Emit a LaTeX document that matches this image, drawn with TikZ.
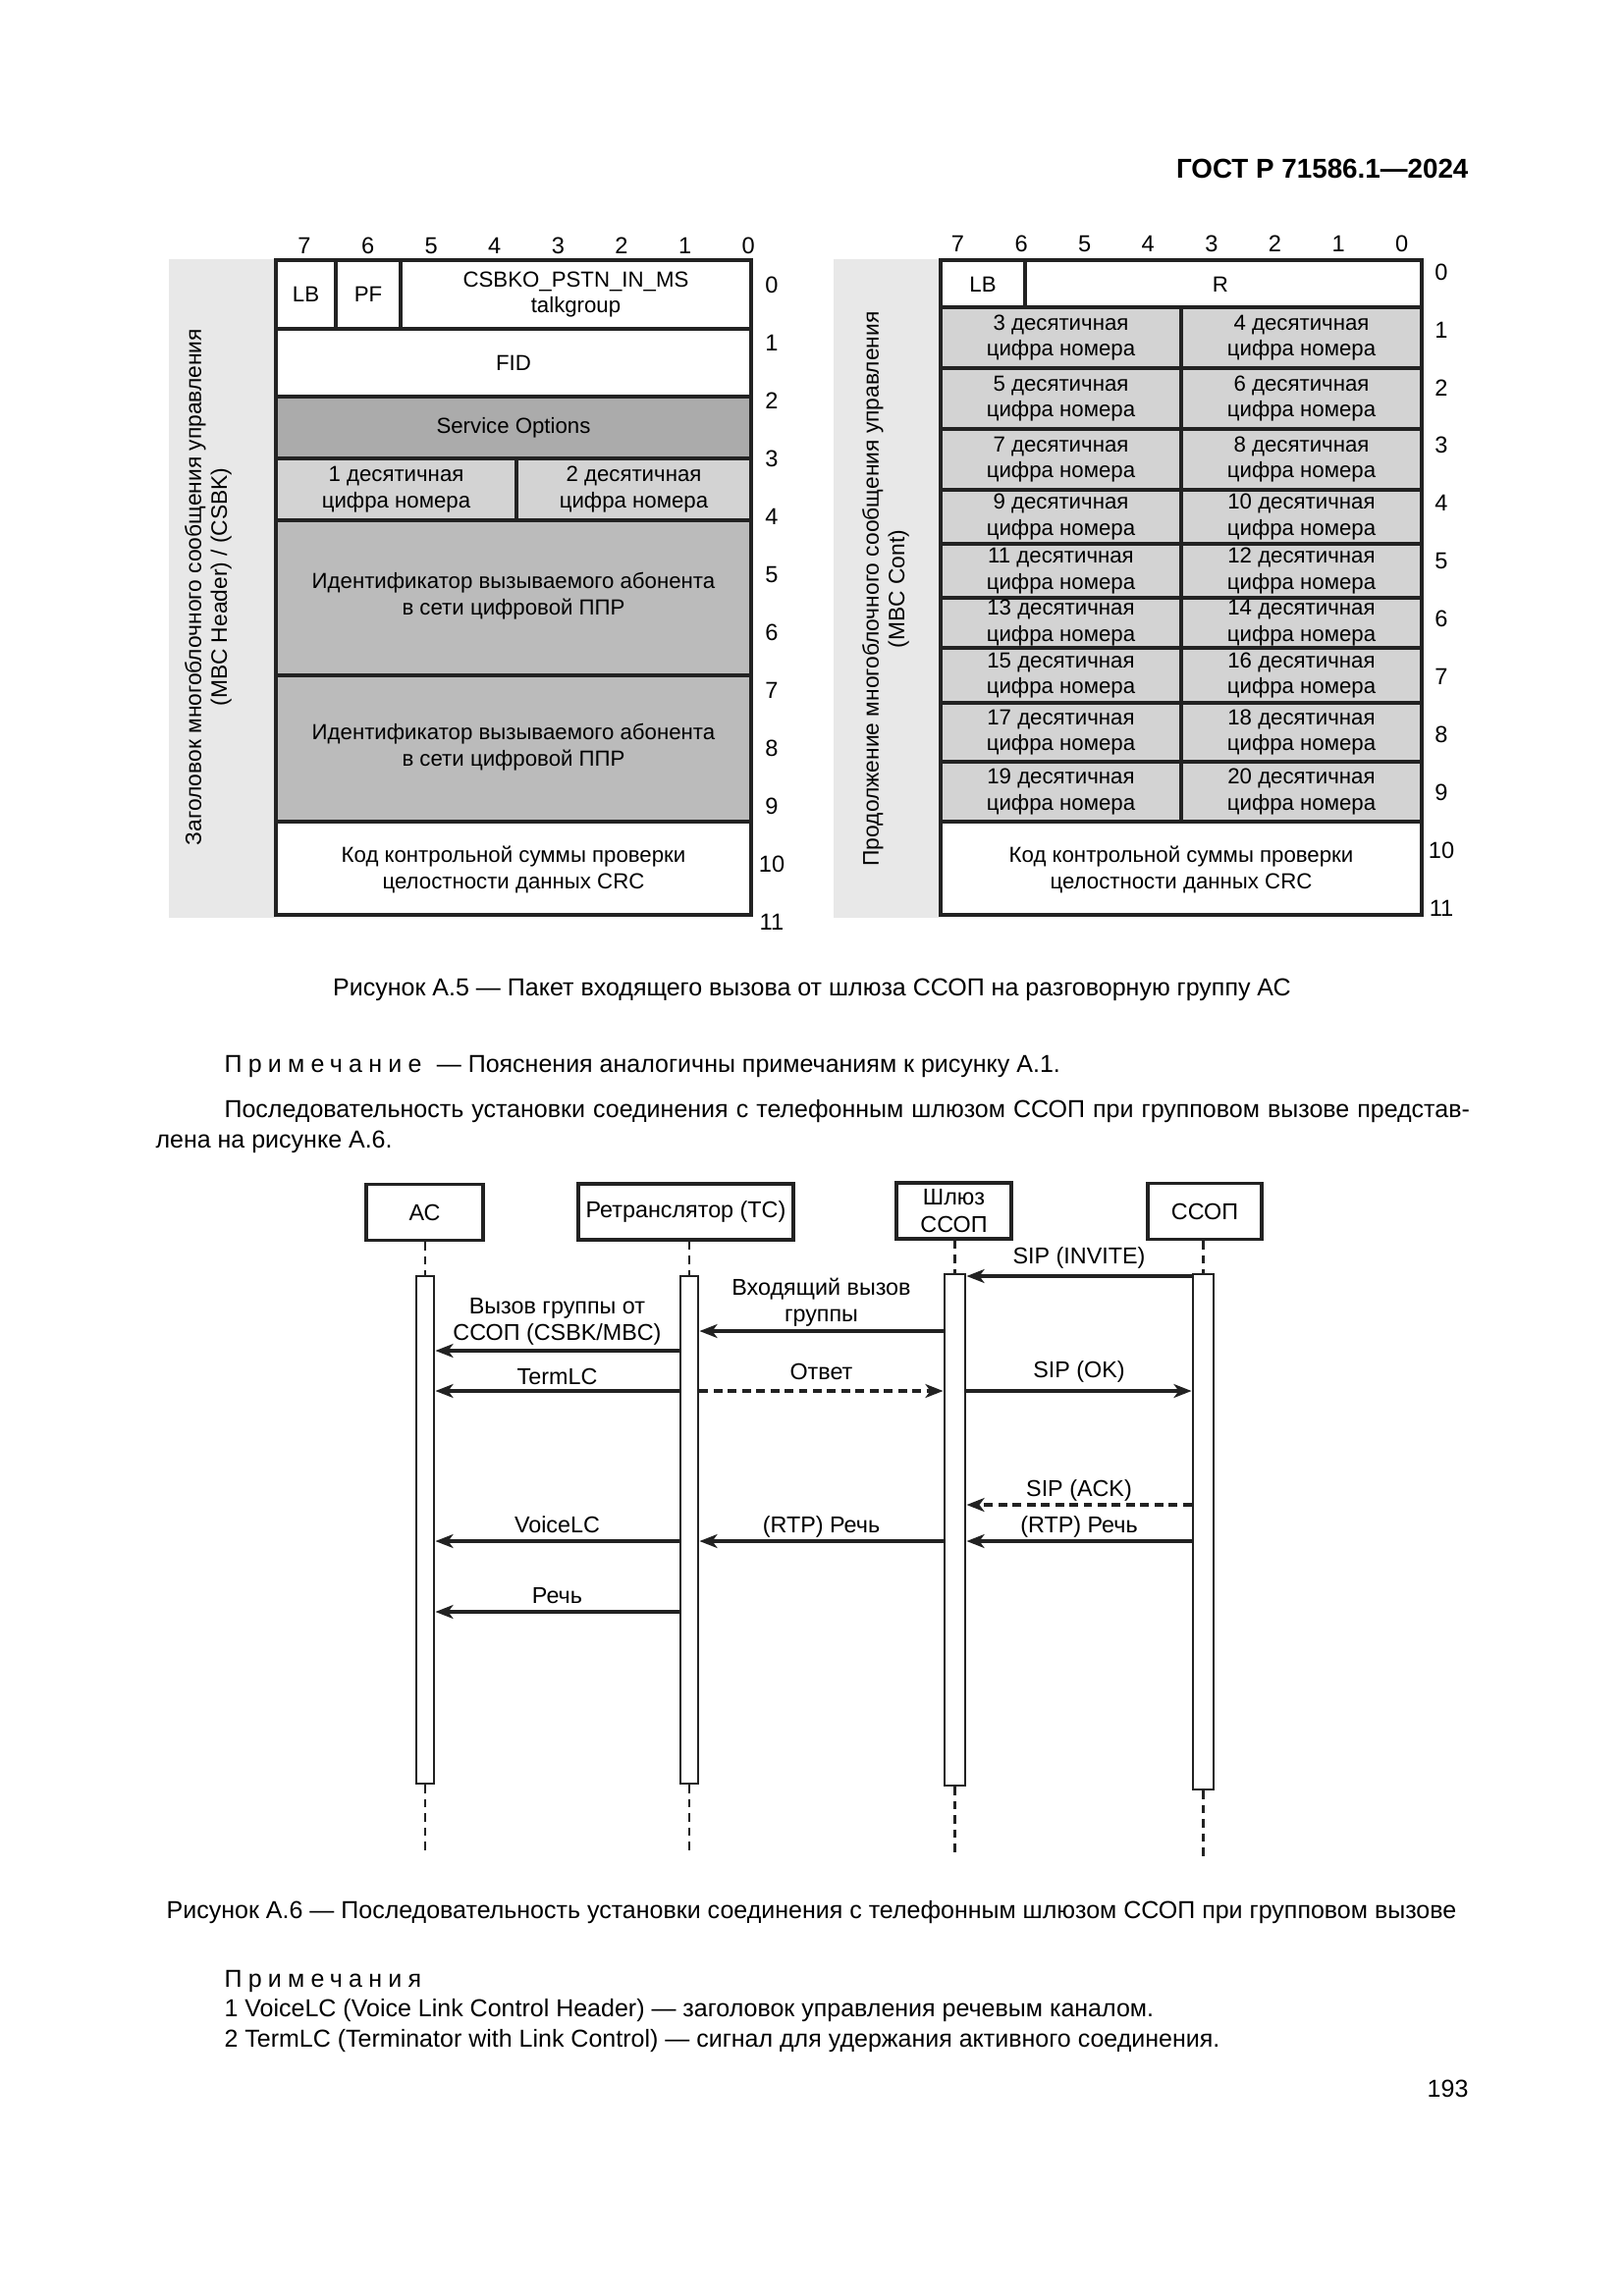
\documentclass[tikz,border=0pt]{standalone}
\usepackage{fontspec}
\setmainfont{Liberation Sans}
\usetikzlibrary{arrows.meta}
\definecolor{polosa}{HTML}{E8E8E8}
\definecolor{temnyj}{HTML}{ABABAB}
\definecolor{srednij}{HTML}{BBBBBB}
\definecolor{svetlyj}{HTML}{D3D3D3}
\definecolor{linija}{HTML}{222222}
\newcommand{\razr}[1]{{\addfontfeature{LetterSpace=25}#1}}

\begin{document}
\begin{tikzpicture}[x=0.3599pt, y=-0.3599pt,
    yach/.style={draw=linija, line width=1.3pt},
    tekst/.style={font=\fontsize{8}{9.6}\selectfont, align=center, inner sep=0pt},
    nomer/.style={font=\fontsize{8.5}{10}\selectfont, inner sep=0pt},
    uchastnik/.style={draw=linija, line width=1.4pt, fill=white, font=\fontsize{8.4}{9.9}\selectfont, align=center, inner sep=0pt, minimum height=20.5pt},
    aktiv/.style={draw=linija, line width=1pt, fill=white, inner sep=0pt, minimum width=6.5pt},
    zhizn/.style={draw=linija, line width=0.9pt, dash pattern=on 3pt off 2.2pt},
    soob/.style={draw=linija, line width=1.3pt, -{Stealth[length=6.5pt, width=5pt, inset=1.8pt]}},
    otvet/.style={soob, dash pattern=on 3.2pt off 2pt},
    metka/.style={font=\fontsize{8.4}{9.9}\selectfont, align=center, inner sep=0pt},
    stroka/.style={font=\fontsize{9}{11.2}\selectfont, inner sep=0pt, anchor=base west}]

    \useasboundingbox[fill=white] (0,0) rectangle (1654,2339);

    % колонтитул
    \node[font=\fontsize{10}{12}\selectfont\bfseries, inner sep=0pt, anchor=base east] (gost) at (1496,181) {ГОСТ Р 71586.1—2024};

    % рисунок А.5, левая таблица
    \fill[polosa] (172,264) rectangle (281,935);
    \filldraw[yach, fill=white] (281,265) rectangle (342,335);
    \filldraw[yach, fill=white] (342,265) rectangle (408,335);
    \filldraw[yach, fill=white] (408,265) rectangle (765,335);
    \filldraw[yach, fill=white] (281,335) rectangle (765,404);
    \filldraw[yach, fill=temnyj] (281,404) rectangle (765,467);
    \filldraw[yach, fill=svetlyj] (281,467) rectangle (526,530);
    \filldraw[yach, fill=svetlyj] (526,467) rectangle (765,530);
    \filldraw[yach, fill=srednij] (281,530) rectangle (765,688);
    \filldraw[yach, fill=srednij] (281,688) rectangle (765,837);
    \filldraw[yach, fill=white] (281,837) rectangle (765,932);

    \node[tekst] (lbL) at (311.5,300) {LB};
    \node[tekst] (pf) at (375,300) {PF};
    \node[tekst] (csbko) at (586.5,300) {CSBKO\_PSTN\_IN\_MS\\talkgroup};
    \node[tekst] (fid) at (523,369.5) {FID};
    \node[tekst] (servis) at (523,435.5) {Service Options};
    \node[tekst] (cifra1) at (403.5,498.5) {1 десятичная\\цифра номера};
    \node[tekst] (cifra2) at (645.5,498.5) {2 десятичная\\цифра номера};
    \node[tekst] (ident1) at (523,607) {Идентификатор вызываемого абонента\\в сети цифровой ППР};
    \node[tekst] (ident2) at (523,761) {Идентификатор вызываемого абонента\\в сети цифровой ППР};
    \node[tekst] (crcL) at (523,886) {Код контрольной суммы проверки\\целостности данных CRC};
    \node[tekst, rotate=90, font=\fontsize{8.2}{9.4}\selectfont] (zagL) at (212,598) {Заголовок многоблочного сообщения управления\\(MBC Header) / (CSBK)};

    \foreach \b [count=\i from 0] in {7,6,5,4,3,2,1,0}
        \node[nomer] (bitL\b) at (310+64.6*\i,250) {\b};
    \foreach \r in {0,...,11}
        \node[nomer] (strL\r) at (786,290+59*\r) {\r};

    % рисунок А.5, правая таблица
    \fill[polosa] (849,264) rectangle (958,935);
    \filldraw[yach, fill=white] (958,265) rectangle (1044,313);
    \filldraw[yach, fill=white] (1044,265) rectangle (1448,313);
    \node[tekst] (lbR) at (1001,290) {LB};
    \node[tekst] (rez) at (1243,290) {R};
    \foreach \ya/\yb [count=\i] in {313/375, 375/437, 437/499, 499/554, 554/609, 609/660, 660/716, 716/776, 776/837} {
        \pgfmathtruncatemacro{\nl}{2*\i+1}
        \pgfmathtruncatemacro{\np}{2*\i+2}
        \filldraw[yach, fill=svetlyj] (958,\ya) rectangle (1203,\yb);
        \filldraw[yach, fill=svetlyj] (1203,\ya) rectangle (1448,\yb);
        \node[tekst] (cifra\nl) at (1080.5,{(\ya+\yb)/2}) {\nl{} десятичная\\цифра номера};
        \node[tekst] (cifra\np) at (1325.5,{(\ya+\yb)/2}) {\np{} десятичная\\цифра номера};
    }
    \filldraw[yach, fill=white] (958,837) rectangle (1448,932);
    \node[tekst] (crcR) at (1203,886) {Код контрольной суммы проверки\\целостности данных CRC};
    \node[tekst, rotate=90, font=\fontsize{8.2}{9.4}\selectfont] (zagR) at (902,600) {Продолжение многоблочного сообщения управления\\(MBC Cont)};

    \foreach \b [count=\i from 0] in {7,6,5,4,3,2,1,0}
        \node[nomer] (bitR\b) at (975.5+64.6*\i,248) {\b};
    \foreach \r in {0,...,11}
        \node[nomer] (strR\r) at (1468,277+58.9*\r) {\r};

    % подписи и текст
    \node[stroka, anchor=base] (ris5) at (827,1014) {Рисунок А.5 — Пакет входящего вызова от шлюза ССОП на разговорную группу АС};
    \node[stroka] (prim) at (228,1092) {\razr{Примечание}\hspace{3pt} — Пояснения аналогичны примечаниям к рисунку А.1.};
    \node[stroka] (abzac) at (158,1138) {\parbox[t]{481.7pt}{\hspace*{25.2pt}Последовательность установки соединения с телефонным шлюзом ССОП при групповом вызове представ-\linebreak лена на рисунке А.6.}};

    % рисунок А.6
    \node[uchastnik, minimum width=42.8pt] (ac) at (432.5,1235) {АС};
    \node[uchastnik, minimum width=78.8pt] (ret) at (698.5,1234.5) {Ретранслятор (ТС)};
    \node[uchastnik, minimum width=42.1pt] (shl) at (971.5,1233.5) {Шлюз\\ССОП};
    \node[uchastnik, minimum width=41.7pt] (ssop) at (1227,1234) {ССОП};

    \node[aktiv, minimum height=186.1pt] (barAC) at (433,1558.5) {};
    \node[aktiv, minimum height=186.1pt] (barRet) at (702,1558.5) {};
    \node[aktiv, minimum width=7.6pt, minimum height=187.5pt] (barShl) at (972.5,1558.5) {};
    \node[aktiv, minimum width=7.6pt, minimum height=189pt] (barSsop) at (1225.5,1560.5) {};

    \foreach \u/\b in {ac/barAC, ret/barRet, shl/barShl, ssop/barSsop} {
        \path (\b.south) ++(0,70) coordinate (\b-niz);
        \draw[zhizn] (\b.north |- \u.south) -- (\b.north);
        \draw[zhizn] (\b.south) -- (\b-niz);
    }

    \draw[soob] (barSsop.west |- 0,1300) -- node[metka, anchor=base, yshift=4.5pt] (lInvite) {SIP (INVITE)} (barShl.east |- 0,1300);
    \draw[soob] (barShl.west |- 0,1356) -- node[metka, anchor=south, yshift=1pt] (lVhod) {Входящий вызов\\группы} (barRet.east |- 0,1356);
    \draw[soob] (barRet.west |- 0,1376) -- node[metka, anchor=south, yshift=1.3pt] (lVyzov) {Вызов группы от\\ССОП (CSBK/MBC)} (barAC.east |- 0,1376);
    \draw[soob] (barRet.west |- 0,1417) -- node[metka, anchor=base, yshift=2.2pt] (lTerm) {TermLC} (barAC.east |- 0,1417);
    \draw[otvet] (barRet.east |- 0,1417) -- node[metka, anchor=base, yshift=4.3pt] (lOtvet) {Ответ} (barShl.west |- 0,1417);
    \draw[soob] (barShl.east |- 0,1417) -- node[metka, anchor=base, yshift=4.7pt] (lOk) {SIP (OK)} (barSsop.west |- 0,1417);
    \draw[otvet] (barSsop.west |- 0,1533) -- node[metka, anchor=base, yshift=3.2pt] (lAck) {SIP (ACK)} (barShl.east |- 0,1533);
    \draw[soob] (barSsop.west |- 0,1570) -- node[metka, anchor=base, yshift=3.2pt] (lRtp1) {(RTP) Речь} (barShl.east |- 0,1570);
    \draw[soob] (barShl.west |- 0,1570) -- node[metka, anchor=base, yshift=3.2pt] (lRtp2) {(RTP) Речь} (barRet.east |- 0,1570);
    \draw[soob] (barRet.west |- 0,1570) -- node[metka, anchor=base, yshift=3.2pt] (lVoice) {VoiceLC} (barAC.east |- 0,1570);
    \draw[soob] (barRet.west |- 0,1642) -- node[metka, anchor=base, yshift=2.9pt] (lRech) {Речь} (barAC.east |- 0,1642);

    \node[stroka, anchor=base] (ris6) at (826.5,1954) {Рисунок А.6 — Последовательность установки соединения с телефонным шлюзом ССОП при групповом вызове};
    \node[stroka] (prims) at (228,2024) {\razr{Примечания}};
    \node[stroka] (prim1) at (228,2054) {1 VoiceLC (Voice Link Control Header) — заголовок управления речевым каналом.};
    \node[stroka] (prim2) at (228,2085) {2 TermLC (Terminator with Link Control) — сигнал для удержания активного соединения.};
    \node[stroka, anchor=base east] (stran) at (1496,2136) {193};
\end{tikzpicture}
\end{document}
